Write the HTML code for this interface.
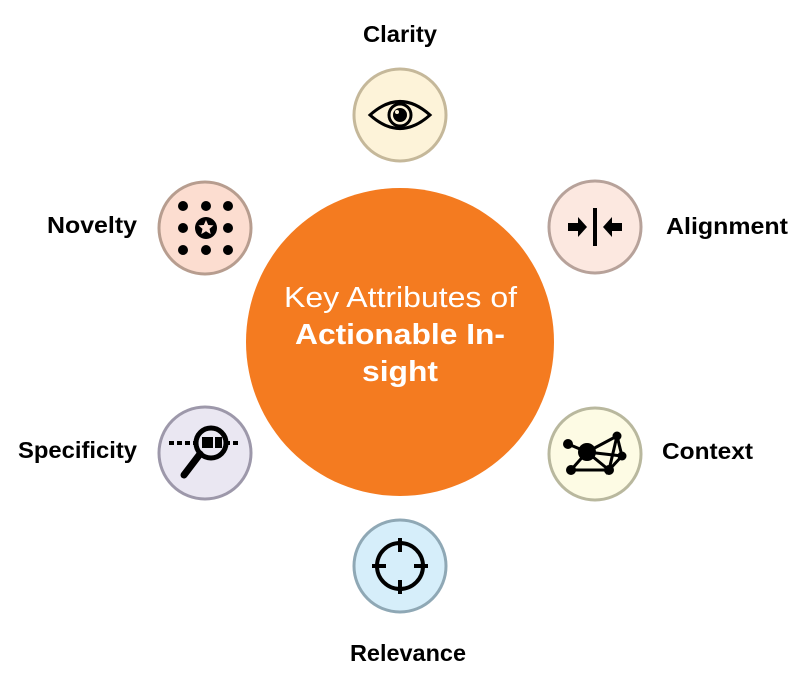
<!DOCTYPE html>
<html><head><meta charset="utf-8"><style>
html,body{margin:0;padding:0;background:#fff;}
svg{display:block;}
text{font-family:"Liberation Sans",sans-serif;}
</style></head><body>
<svg width="800" height="682" viewBox="0 0 800 682" xmlns="http://www.w3.org/2000/svg">
<circle cx="400" cy="342" r="154" fill="#f47b20"/>
<text x="284" y="307" font-size="29" fill="#fff" textLength="233" lengthAdjust="spacingAndGlyphs">Key Attributes of</text>
<text x="295" y="344" font-size="29" font-weight="bold" fill="#fff" textLength="210" lengthAdjust="spacingAndGlyphs">Actionable In-</text>
<text x="362" y="381" font-size="29" font-weight="bold" fill="#fff" textLength="76" lengthAdjust="spacingAndGlyphs">sight</text>

<!-- Clarity -->
<circle cx="400" cy="115" r="46" fill="#fdf3d9" stroke="#c5b89a" stroke-width="3"/>
<path d="M370 115 Q400 88 430 115 Q400 142 370 115Z" fill="none" stroke="#000" stroke-width="3"/>
<circle cx="400" cy="115" r="11" fill="none" stroke="#000" stroke-width="3"/>
<circle cx="400" cy="115" r="7" fill="#000"/><circle cx="397" cy="112" r="2" fill="#fdf3d9"/>
<text x="363" y="42" font-size="23" font-weight="bold" textLength="74" lengthAdjust="spacingAndGlyphs">Clarity</text>

<!-- Alignment -->
<circle cx="595" cy="227" r="46" fill="#fce8e0" stroke="#b7a29a" stroke-width="3"/>
<rect x="593" y="208" width="4" height="38" fill="#000"/>
<path d="M568 223h10v-6l9 10-9 10v-6h-10z" fill="#000"/>
<path d="M622 223h-10v-6l-9 10 9 10v-6h10z" fill="#000"/>
<text x="666" y="234" font-size="23" font-weight="bold" textLength="122" lengthAdjust="spacingAndGlyphs">Alignment</text>

<!-- Context -->
<circle cx="595" cy="454" r="46" fill="#fdfbe4" stroke="#b9b89e" stroke-width="3"/>
<g stroke="#000" stroke-width="3" fill="none">
<path d="M568 444L587 452L571 470L609 470L587 452L617 436L622 456L609 470L617 436M587 452L622 456"/>
</g>
<g fill="#000"><circle cx="587" cy="452" r="9"/><circle cx="568" cy="444" r="5"/><circle cx="571" cy="470" r="5"/><circle cx="609" cy="470" r="5"/><circle cx="617" cy="436" r="4.5"/><circle cx="622" cy="456" r="4.5"/></g>
<text x="662" y="459" font-size="23" font-weight="bold" textLength="91" lengthAdjust="spacingAndGlyphs">Context</text>

<!-- Relevance -->
<circle cx="400" cy="566" r="46" fill="#d6eefa" stroke="#8fa8b5" stroke-width="3"/>
<circle cx="400" cy="566" r="23" fill="none" stroke="#000" stroke-width="4"/>
<g stroke="#000" stroke-width="4"><line x1="400" y1="538" x2="400" y2="552"/><line x1="400" y1="580" x2="400" y2="594"/><line x1="372" y1="566" x2="386" y2="566"/><line x1="414" y1="566" x2="428" y2="566"/></g>
<text x="350" y="661" font-size="23" font-weight="bold" textLength="116" lengthAdjust="spacingAndGlyphs">Relevance</text>

<!-- Specificity -->
<circle cx="205" cy="453" r="46" fill="#eae7f2" stroke="#9d98aa" stroke-width="3"/>
<g fill="#000"><rect x="169" y="441" width="5" height="4"/><rect x="177" y="441" width="5" height="4"/><rect x="185" y="441" width="5" height="4"/><rect x="193" y="441" width="4" height="4"/>
<rect x="202" y="437" width="11" height="11"/><rect x="215" y="437" width="7" height="11"/><rect x="225" y="441" width="5" height="4"/><rect x="233" y="441" width="5" height="4"/></g>
<circle cx="211" cy="443" r="15" fill="none" stroke="#000" stroke-width="5"/>
<line x1="200" y1="454" x2="184" y2="475" stroke="#000" stroke-width="7" stroke-linecap="round"/>
<text x="18" y="458" font-size="23" font-weight="bold" textLength="119" lengthAdjust="spacingAndGlyphs">Specificity</text>

<!-- Novelty -->
<circle cx="205" cy="228" r="46" fill="#fcddd0" stroke="#b79d8f" stroke-width="3"/>
<g fill="#000">
<circle cx="183" cy="206" r="5"/><circle cx="206" cy="206" r="5"/><circle cx="228" cy="206" r="5"/>
<circle cx="183" cy="228" r="5"/><circle cx="228" cy="228" r="5"/>
<circle cx="183" cy="250" r="5"/><circle cx="206" cy="250" r="5"/><circle cx="228" cy="250" r="5"/>
<circle cx="206" cy="228" r="11"/></g>
<path d="M206 220l2.2 5 5.3.4-4 3.5 1.2 5.2-4.7-2.8-4.7 2.8 1.2-5.2-4-3.5 5.3-.4z" fill="#fcddd0"/>
<text x="47" y="233" font-size="23" font-weight="bold" textLength="90" lengthAdjust="spacingAndGlyphs">Novelty</text>
</svg>
</body></html>
